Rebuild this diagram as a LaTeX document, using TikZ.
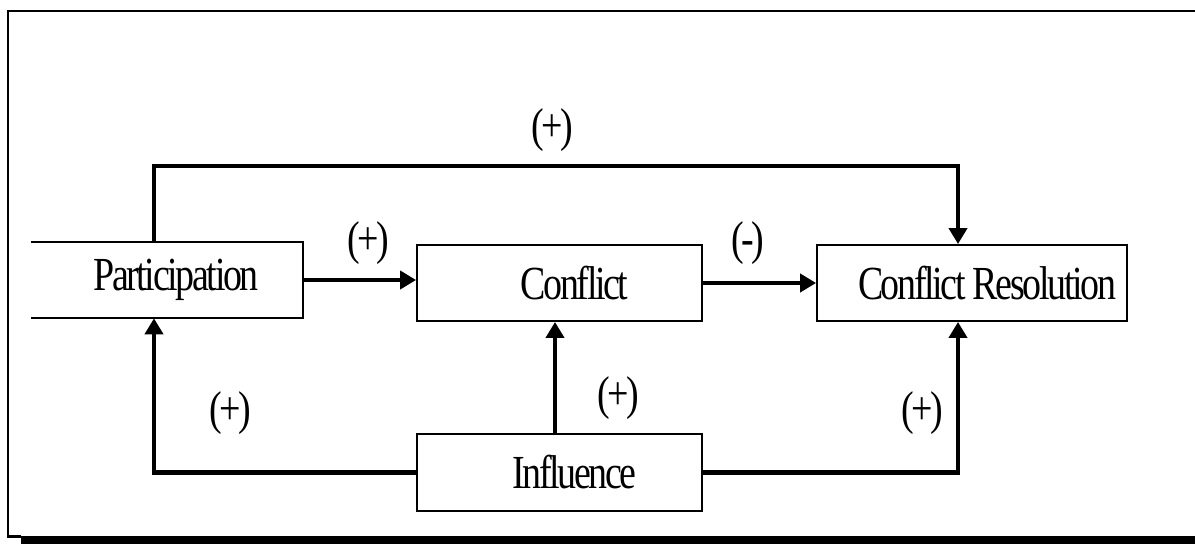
\documentclass[tikz,border=0pt]{standalone}
\usepackage{fontspec}
\setmainfont{Liberation Serif}[FakeStretch=0.8,LetterSpace=-5]
\usetikzlibrary{arrows.meta}
\begin{document}
\begin{tikzpicture}[x=0.02cm,y=-0.02cm,
  boxframe/.style={draw=black,line width=1.1pt,inner sep=0pt,minimum height=1.52cm},
  boxopen/.style={inner sep=0pt,minimum height=1.52cm},
  boxtext/.style={font=\fontsize{27}{32}\selectfont,inner sep=0pt},
  signlbl/.style={font=\fontsize{27}{32}\selectfont,inner sep=0pt},
  link/.style={line width=2.3pt,-{Triangle[length=0.32cm,width=0.36cm]}}]
\useasboundingbox (0,0) rectangle (1195,544);
% outer frame with its heavy bottom edge
\draw[line width=1.7pt] (1195,11) -- (8,11) -- (8,536) -- (21,536);
\fill[black] (21,535.5) rectangle (1195,544);
% boxes
\node[boxopen,minimum width=5.44cm] (part) at (167,280) {};
\draw[line width=1.1pt] (part.north west) -- (part.north east) -- (part.south east) -- (part.south west);
\node[boxtext] at ([xshift=0.18cm]part.center) {Participation};
\node[boxframe,minimum width=5.7cm] (conf) at (559.5,283) {};
\node[boxtext] at ([xshift=0.3cm]conf.center) {Conflict};
\node[boxframe,minimum width=6.2cm] (cres) at (972,283) {};
\node[boxtext] at ([xshift=0.3cm]cres.center) {Conflict Resolution};
\node[boxframe,minimum width=5.7cm,minimum height=1.54cm] (infl) at (559.5,472.5) {};
\node[boxtext] at ([xshift=0.3cm]infl.center) {Influence};
% routing columns and row
\coordinate (colL) at (154,0);
\coordinate (colM) at (555,0);
\coordinate (colR) at (958,0);
\coordinate (rowT) at (0,166);
% connectors
\draw[link] (part.east) -- (part.east -| conf.west);
\draw[link] (conf.east) -- (cres.west);
\draw[link] (colL |- part.north) -- (colL |- rowT) -- (colR |- rowT) -- (colR |- cres.north);
\draw[link] (infl.west) -- (colL |- infl.west) -- (colL |- part.south);
\draw[link] (infl.east) -- (colR |- infl.east) -- (colR |- cres.south);
\draw[link] (colM |- infl.north) -- (colM |- conf.south);
% signs
\node[signlbl] (s1) at (552,130) {(+)};
\node[signlbl] (s2) at (368,243) {(+)};
\node[signlbl] (s3) at (748,243) {(-)};
\node[signlbl] (s4) at (230,413) {(+)};
\node[signlbl] (s5) at (618,398) {(+)};
\node[signlbl] (s6) at (922,413) {(+)};
\end{tikzpicture}
\end{document}
